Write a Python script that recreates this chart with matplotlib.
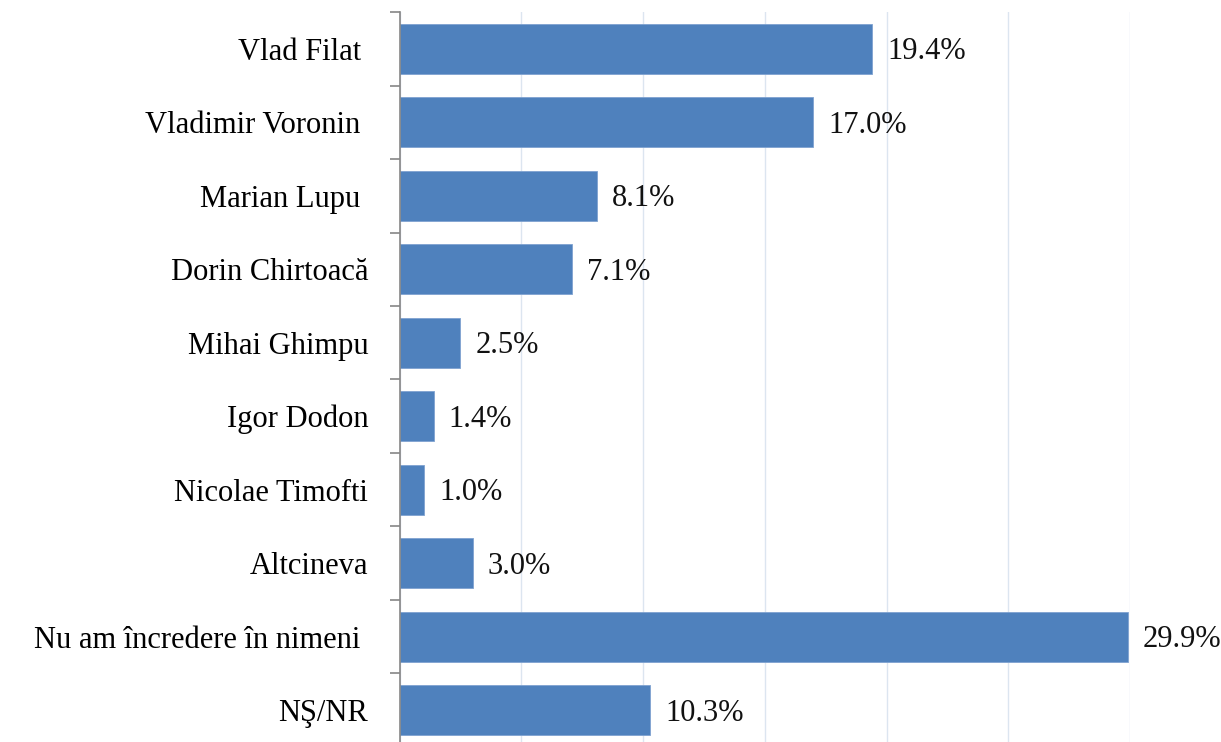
import matplotlib.pyplot as plt
import numpy as np

plt.rcParams["font.family"] = ["Liberation Serif", "DejaVu Serif"]

names = ["Vlad Filat ", "Vladimir Voronin ", "Marian Lupu ", "Dorin Chirtoacă",
         "Mihai Ghimpu", "Igor Dodon", "Nicolae Timofti", "Altcineva",
         "Nu am încredere în nimeni ", "NŞ/NR"]
values = [19.4, 17.0, 8.1, 7.1, 2.5, 1.4, 1.0, 3.0, 29.9, 10.3]

fig = plt.figure(figsize=(12.21, 7.42), dpi=100)
ax = fig.add_axes([0.3272, -0.0067, 0.5983, 0.9905])

y = np.arange(len(names))
ax.barh(y, values, height=0.68, color="#4f81bd", edgecolor="#7fa2d0", linewidth=0.6, zorder=2)
for yi, v in zip(y, values):
    ax.text(v + 0.62, yi + 0.04, f"{v:.1f}%", va="center", ha="left", fontsize=22, color="#111111")

ax.set_ylim(len(names) - 0.5, -0.5)
ax.set_xlim(0, 30)
ax.set_yticks(y)
ax.set_yticklabels(names, fontsize=22)
ax.set_yticks(np.arange(len(names) + 1) - 0.5, minor=True)
ax.tick_params(axis="y", which="major", length=0, pad=22.5)
ax.tick_params(axis="y", which="minor", length=7.5, width=1.2, color="#868686")
ax.set_xticks(np.arange(0, 31, 5))
ax.tick_params(axis="x", length=0, labelbottom=False)
ax.grid(axis="x", color="#dce5f0", linewidth=1.0, zorder=0)
ax.set_axisbelow(True)
for s in ["top", "right", "bottom"]:
    ax.spines[s].set_visible(False)
ax.spines["left"].set_color("#868686")
ax.spines["left"].set_linewidth(1.2)
ax.spines["left"].set_zorder(3)

fig.savefig("out.png", dpi=100)
